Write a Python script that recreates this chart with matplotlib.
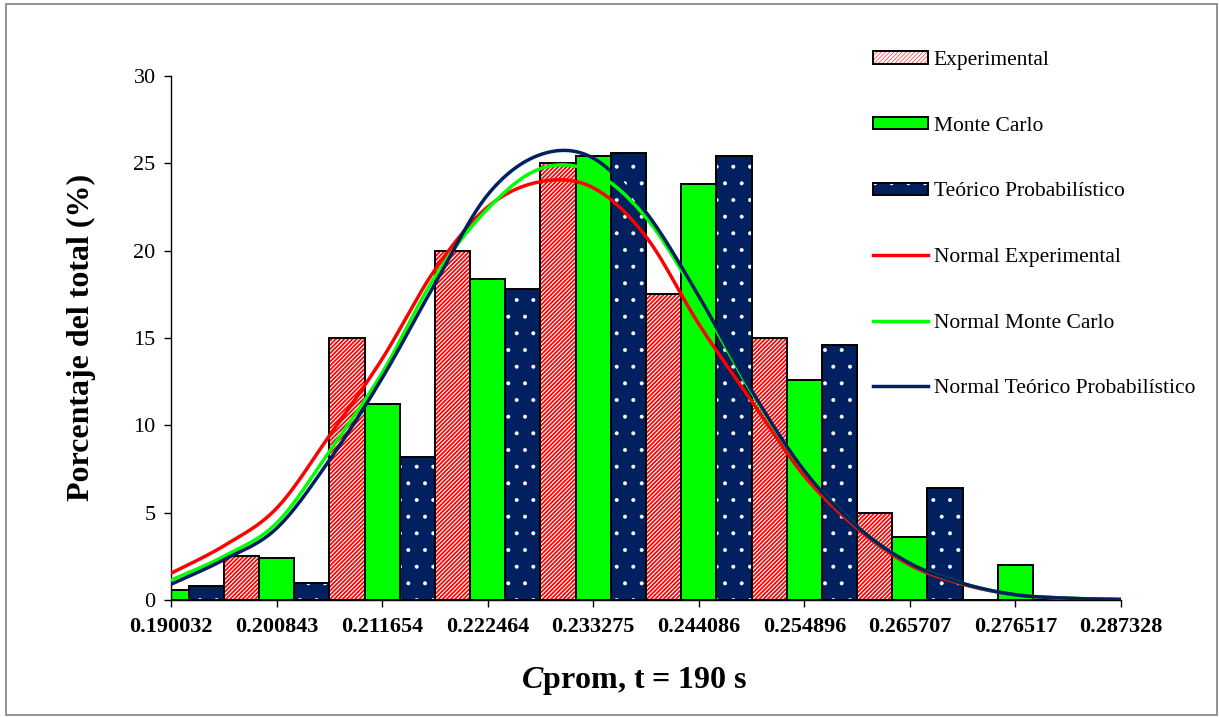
import numpy as np
import matplotlib
matplotlib.use('Agg')
import matplotlib.pyplot as plt
from matplotlib.patches import Patch, Rectangle
from matplotlib.lines import Line2D

plt.rcParams['font.family'] = 'Liberation Serif'
plt.rcParams['mathtext.fontset'] = 'custom'
plt.rcParams['mathtext.bf'] = 'Liberation Serif:bold'
plt.rcParams['mathtext.bfit'] = 'Liberation Serif:italic:bold'

# class limits (x axis categories)
bins = ['0.190032', '0.200843', '0.211654', '0.222464', '0.233275',
        '0.244086', '0.254896', '0.265707', '0.276517', '0.287328']

# histogram percentages per class
experimental = [0, 2.5, 15, 20, 25, 17.5, 15, 5, 0, 0]
monte_carlo = [0.6, 2.4, 11.2, 18.4, 25.4, 23.8, 12.6, 3.6, 2.0, 0]
teorico = [0.8, 1.0, 8.2, 17.8, 25.6, 25.4, 14.6, 6.4, 0, 0]

# fitted normal curves, sampled every half class
curve_pos = [0, 0.5, 1, 1.5, 2, 2.5, 3, 3.5, 4, 4.5, 5, 5.5, 6, 6.5, 7, 7.5, 8, 8.5, 9]
normal_exp = [1.53, 3.1, 5.25, 9.4, 13.8, 18.9, 22.5, 23.95, 23.6, 20.8, 15.8,
              11.4, 7.1, 4.1, 2.0, 0.9, 0.3, 0.1, 0.03]
normal_mc = [1.14, 2.5, 4.4, 8.5, 13.0, 18.5, 22.4, 24.7, 24.5, 21.9, 17.2,
             11.9, 7.4, 4.2, 2.1, 0.95, 0.3, 0.1, 0.03]
normal_teo = [0.9, 2.3, 4.1, 8.0, 12.7, 18.1, 23.2, 25.5, 25.3, 22.2, 17.4,
              12.0, 7.4, 4.2, 2.1, 0.95, 0.3, 0.1, 0.03]

RED = '#FF0000'
GREEN = '#00FF00'
NAVY = '#002060'
EDGE_LW = 1.4


def smooth(xs, ys, n=24):
    # Catmull-Rom spline through the sampled points (smoothed line)
    p = np.column_stack([xs, ys]).astype(float)
    p = np.vstack([p[0], p, p[-1]])
    out = []
    for i in range(1, len(p) - 2):
        p0, p1, p2, p3 = p[i - 1], p[i], p[i + 1], p[i + 2]
        t = np.linspace(0, 1, n, endpoint=False)[:, None]
        seg = 0.5 * ((2 * p1) + (-p0 + p2) * t + (2 * p0 - 5 * p1 + 4 * p2 - p3) * t ** 2
                     + (-p0 + 3 * p1 - 3 * p2 + p3) * t ** 3)
        out.append(seg)
    out.append(p[-2][None, :])
    out = np.vstack(out)
    return out[:, 0], out[:, 1]


def main():
    fig = plt.figure(figsize=(12.19, 7.17), dpi=100)
    fig.patches.append(Rectangle((0.005, 0.003), 0.993, 0.991, transform=fig.transFigure,
                                 fill=False, edgecolor='#808080', linewidth=1.2))
    ax = fig.add_axes([0.1403, 0.1632, 0.7793, 0.7308])

    x = np.arange(len(bins))
    w = 1 / 3

    # striped bars
    plt.rcParams['hatch.linewidth'] = 1.25
    ax.bar(x - w, experimental, w, facecolor='white', edgecolor=RED, hatch='////////', linewidth=0)
    h_exp_fill = Patch(facecolor='white', edgecolor=RED, hatch='////////', linewidth=0)
    ax.bar(x - w, experimental, w, facecolor='none', edgecolor='black', linewidth=EDGE_LW)
    ax.bar(x, monte_carlo, w, facecolor=GREEN, edgecolor='black', linewidth=EDGE_LW)

    # dotted bars
    plt.rcParams['hatch.linewidth'] = 0.4
    ax.bar(x + w, teorico, w, facecolor=NAVY, edgecolor='white', hatch='.', linewidth=0)
    h_teo_fill = Patch(facecolor=NAVY, edgecolor='white', hatch='.', linewidth=0)
    ax.bar(x + w, teorico, w, facecolor='none', edgecolor='black', linewidth=EDGE_LW)

    for vals, col in [(normal_exp, RED), (normal_mc, GREEN), (normal_teo, NAVY)]:
        sx, sy = smooth(curve_pos, vals)
        ax.plot(sx, sy, color=col, linewidth=2.5, solid_capstyle='round', zorder=5)

    ax.set_xlim(0, 9)
    ax.set_ylim(0, 30)
    ax.set_yticks(range(0, 31, 5))
    ax.set_xticks(x)
    ax.set_xticklabels(bins, fontweight='bold', fontsize=16)
    ax.tick_params(axis='y', labelsize=16, length=5, width=1, pad=6, direction='out')
    ax.tick_params(axis='x', length=5, width=1, pad=7, direction='out')
    for s in ['top', 'right']:
        ax.spines[s].set_visible(False)
    ax.spines['left'].set_linewidth(1)
    ax.spines['bottom'].set_linewidth(1)

    fig.text(0.067, 0.53, 'Porcentaje del total (%)', rotation=90, ha='center', va='center',
             fontsize=23, fontweight='bold')
    fig.text(0.52, 0.05, r'$\mathbfit{C}$prom, t = 190 s', ha='center', va='center',
             fontsize=23, fontweight='bold')

    outline = dict(facecolor='none', edgecolor='black', linewidth=EDGE_LW)
    handles = [(h_exp_fill, Patch(**outline)),
               Patch(facecolor=GREEN, edgecolor='black', linewidth=EDGE_LW),
               (h_teo_fill, Patch(**outline)),
               Line2D([], [], color=RED, linewidth=2.5),
               Line2D([], [], color=GREEN, linewidth=2.5),
               Line2D([], [], color=NAVY, linewidth=2.5)]
    labels = ['Experimental', 'Monte Carlo', 'Teórico Probabilístico',
              'Normal Experimental', 'Normal Monte Carlo', 'Normal Teórico Probabilístico']
    fig.legend(handles, labels, loc='upper left', bbox_to_anchor=(0.716, 0.9285),
               frameon=False, fontsize=15.5, handlelength=2.55, handleheight=0.5,
               handletextpad=0.28, labelspacing=2.165, borderpad=0, borderaxespad=0)

    fig.savefig('out.png', dpi=100)


if __name__ == '__main__':
    main()
